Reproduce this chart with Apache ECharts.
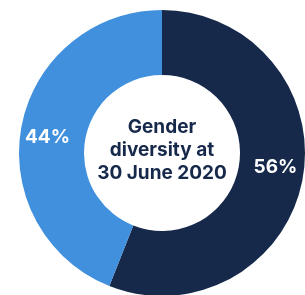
<!DOCTYPE html>
<html>
<head>
<meta charset="utf-8">
<script src="https://cdn.jsdelivr.net/npm/echarts@6/dist/echarts.min.js"></script>
<style>html,body{margin:0;padding:0;background:#fff;}#c{width:305px;height:295px;}</style>
</head>
<body>
<div id="c"></div>
<script>
const categories = ['Female', 'Male'];
const values = [56, 44];
const labels = ['56%', '44%'];
const centerTitle = 'Gender\ndiversity at\n30 June 2020';
const colors = ['#16294b', '#4190de'];
const labelOffsets = [[2, -7], [-3, 6]];

const chart = echarts.init(document.getElementById('c'), null, {renderer: 'canvas'});
chart.setOption({
  animation: false,
  title: {
    text: centerTitle,
    left: 162, top: 116, textAlign: 'center', padding: 0,
    textStyle: {
      color: '#16294b', fontFamily: 'Inter', fontWeight: 'bold',
      fontSize: 19, lineHeight: 23
    }
  },
  series: [{
    type: 'pie',
    center: [162, 153],
    radius: [78, 143],
    startAngle: 90,
    clockwise: true,
    silent: true,
    data: categories.map((c, i) => ({name: c, value: values[i], itemStyle: {color: colors[i]}, label: {formatter: labels[i], offset: labelOffsets[i]}})),
    label: {
      show: true, position: 'inside', color: '#fff',
      fontFamily: 'Inter', fontWeight: 'bold', fontSize: 19
    },
    labelLine: {show: false},
    itemStyle: {borderWidth: 0}
  }]
});
</script>
</body>
</html>
